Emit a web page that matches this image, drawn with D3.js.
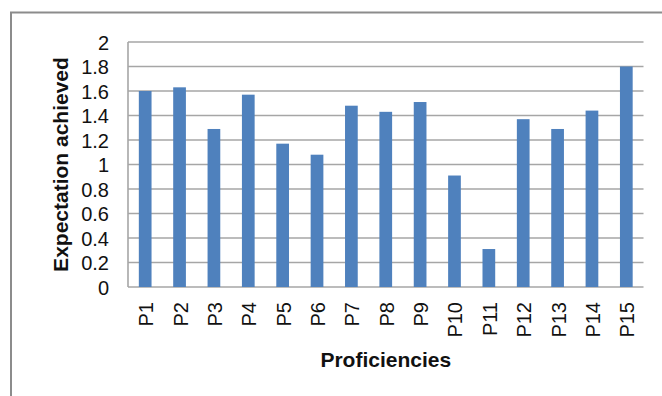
<!DOCTYPE html>
<html>
<head>
<meta charset="utf-8">
<script src="https://cdn.jsdelivr.net/npm/d3@7"></script>
<style>
  html, body { margin: 0; padding: 0; background: #fff; }
  svg { display: block; }
</style>
</head>
<body>
<svg id="chart" width="662" height="396"></svg>
<script>
// Proficiency categories and how far each met expectations
const categories = ["P1","P2","P3","P4","P5","P6","P7","P8","P9","P10","P11","P12","P13","P14","P15"];
const values = [1.6, 1.63, 1.29, 1.57, 1.17, 1.08, 1.48, 1.43, 1.51, 0.91, 0.31, 1.37, 1.29, 1.44, 1.8];
const yTicks = [0, 0.2, 0.4, 0.6, 0.8, 1, 1.2, 1.4, 1.6, 1.8, 2];
const xTitle = "Proficiencies";
const yTitle = "Expectation achieved";

const svg = d3.select("#chart");
const plot = { left: 128, right: 643.5, top: 42, bottom: 287 };

// Outer chart frame (only top and left edges fall inside the view)
svg.append("rect")
  .attr("x", 11).attr("y", 12.5)
  .attr("width", 800).attr("height", 600)
  .attr("fill", "none")
  .attr("stroke", "#8c8c8c")
  .attr("stroke-width", 2);

const x = d3.scaleBand()
  .domain(categories)
  .range([plot.left, plot.right])
  .paddingInner(0.63)
  .paddingOuter(0.315);

const y = d3.scaleLinear()
  .domain([0, 2])
  .range([plot.bottom, plot.top]);

// Horizontal gridlines
svg.append("g")
  .selectAll("line")
  .data(yTicks)
  .join("line")
  .attr("x1", plot.left).attr("x2", plot.right)
  .attr("y1", d => y(d)).attr("y2", d => y(d))
  .attr("stroke", "#a6a6a6")
  .attr("stroke-width", 1.6);

// Bars
svg.append("g")
  .selectAll("rect")
  .data(values)
  .join("rect")
  .attr("x", (d, i) => x(categories[i]))
  .attr("y", d => y(d))
  .attr("width", x.bandwidth())
  .attr("height", d => y(0) - y(d))
  .attr("fill", "#4f81bd");

// Y axis line
svg.append("line")
  .attr("x1", plot.left).attr("x2", plot.left)
  .attr("y1", plot.top).attr("y2", plot.bottom)
  .attr("stroke", "#a6a6a6")
  .attr("stroke-width", 1.6);

// Y axis via d3.axisLeft, restyled
const yAxis = svg.append("g")
  .attr("transform", `translate(${plot.left},0)`)
  .call(d3.axisLeft(y).tickValues(yTicks).tickSize(0).tickPadding(19)
    .tickFormat(d => String(+d.toFixed(1))));
yAxis.select(".domain").remove();
yAxis.selectAll("text")
  .attr("font-family", "Liberation Sans, Arial, sans-serif")
  .attr("font-size", 20)
  .attr("fill", "#111")
  .attr("dy", "0.35em");

// X axis via d3.axisBottom, labels rotated vertically
const xAxis = svg.append("g")
  .attr("transform", `translate(0,${plot.bottom})`)
  .call(d3.axisBottom(x).tickSize(0));
xAxis.select(".domain").remove();
xAxis.selectAll("text")
  .attr("font-family", "Liberation Sans, Arial, sans-serif")
  .attr("font-size", 20)
  .attr("fill", "#111")
  .attr("text-anchor", "end")
  .attr("transform", "rotate(-90)")
  .attr("x", -15)
  .attr("y", 1)
  .attr("dy", "0.35em");

// Axis titles
svg.append("text")
  .attr("x", (plot.left + plot.right) / 2)
  .attr("y", 367)
  .attr("text-anchor", "middle")
  .attr("font-family", "Liberation Sans, Arial, sans-serif")
  .attr("font-weight", "bold")
  .attr("font-size", 21)
  .attr("fill", "#111")
  .text(xTitle);

svg.append("text")
  .attr("transform", `translate(68,${(plot.top + plot.bottom) / 2}) rotate(-90)`)
  .attr("text-anchor", "middle")
  .attr("font-family", "Liberation Sans, Arial, sans-serif")
  .attr("font-weight", "bold")
  .attr("font-size", 21)
  .attr("fill", "#111")
  .text(yTitle);
</script>
</body>
</html>
